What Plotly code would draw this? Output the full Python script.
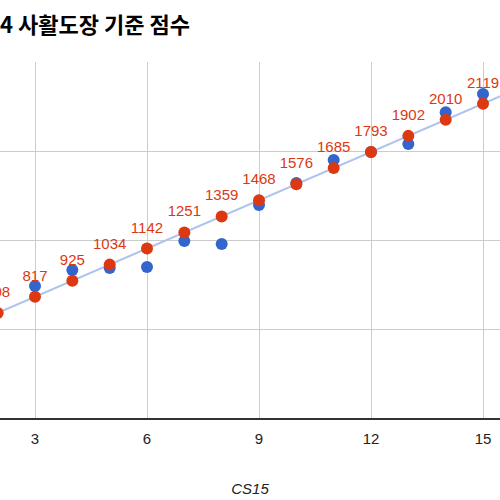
import numpy as np
import plotly.graph_objects as go

# CS15 level vs score, cropped view of the original chart
levels = [2, 3, 4, 5, 6, 7, 8, 9, 10, 11, 12, 13, 14, 15]
standard = [708, 817, 925, 1034, 1142, 1251, 1359, 1468, 1576, 1685, 1793, 1902, 2010, 2119]

blue_levels = [3, 4, 5, 6, 7, 8, 9, 10, 11, 12, 13, 14, 15]
measured = [890, 998, 1011, 1018, 1193, 1173, 1436, 1584, 1739, 1793, 1847, 2062, 2184]

x_ticks = [3, 6, 9, 12, 15]
y_ticks = [0, 600, 1200, 1800, 2400]

# linear trendline over the standard scores
slope, intercept = np.polyfit(levels, standard, 1)
trend_x = [1, 16]
trend_y = [slope * x + intercept for x in trend_x]

fig = go.Figure()
fig.add_trace(go.Scatter(x=trend_x, y=trend_y, mode='lines',
                         line=dict(color='#aec3ee', width=2), hoverinfo='skip'))
fig.add_trace(go.Scatter(x=blue_levels, y=measured, mode='markers',
                         marker=dict(color='#3366cc', size=12)))
fig.add_trace(go.Scatter(x=levels, y=standard, mode='markers',
                         marker=dict(color='#dc3912', size=12)))
# labels on an invisible wider marker so they sit a bit higher above the dots
fig.add_trace(go.Scatter(x=levels, y=standard, mode='markers+text',
                         text=[str(v) for v in standard], textposition='top center',
                         textfont=dict(family='Arial, Liberation Sans', size=15, color='#dc3912'),
                         marker=dict(size=18, opacity=0), hoverinfo='skip'))

fig.update_layout(
    width=500, height=500,
    margin=dict(l=0, r=0, t=62, b=82),
    plot_bgcolor='white', paper_bgcolor='white',
    showlegend=False,
    title=dict(text='<b>4 사활도장 기준 점수</b>', x=0, xref='container', xanchor='left',
               y=0.95, yanchor='middle',
               font=dict(family='Noto Sans CJK KR', size=22, color='#000000')),
)
fig.update_xaxes(range=[2.0625, 15.455], tickvals=x_ticks, showgrid=True, gridcolor='#cccccc',
                 zeroline=False, showline=True, linecolor='#333333', linewidth=1.5,
                 tickfont=dict(family='Arial, Liberation Sans', size=15, color='#222222'),
                 ticklabelstandoff=6,
                 title=dict(text='<i>CS15</i>', standoff=38,
                            font=dict(family='Arial, Liberation Sans', size=15, color='#222222')))
fig.update_yaxes(range=[0, 2400], tickvals=y_ticks, showticklabels=False, showgrid=True,
                 gridcolor='#cccccc', zeroline=False)

fig.write_html("out.html", config={'displayModeBar': False},
               post_script="document.body.style.margin='0';")
